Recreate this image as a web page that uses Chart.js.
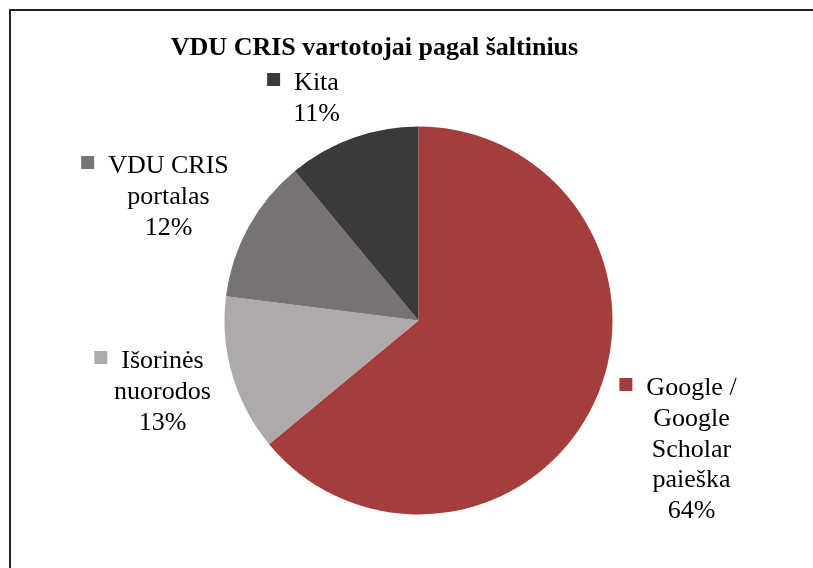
<!DOCTYPE html>
<html>
<head>
<meta charset="utf-8">
<script src="https://cdn.jsdelivr.net/npm/chart.js@4"></script>
<style>
  body { margin: 0; background: #fff; }
  #wrap { width: 813px; height: 568px; position: relative; }
</style>
</head>
<body>
<div id="wrap"><canvas id="pie-chart" width="813" height="568"></canvas></div>
<script>
//
// Pie chart - data
//
const categories = [
  'Google / Google Scholar paieška',
  'Išorinės nuorodos',
  'VDU CRIS portalas',
  'Kita'
];
const values = [64, 13, 12, 11];

// how each label breaks into lines (last line is the percent)
const labelLines = [
  ['Google /', 'Google', 'Scholar', 'paieška'],
  ['Išorinės', 'nuorodos'],
  ['VDU CRIS', 'portalas'],
  ['Kita']
];

const colors = ['#A43D3B', '#ADAAA9', '#767372', '#3B3A38'];

// label layout: text center x, first baseline y
const labelPos = [
  [691.5, 395],
  [162.5, 368],
  [168.5, 173],
  [316.5, 90]
];

const font = '"Liberation Serif", "Times New Roman", serif';

// frame + title + outside labels
const decor = {
  id: 'decor',
  afterDraw(chart) {
    const ctx = chart.ctx;
    ctx.save();
    ctx.fillStyle = '#222';
    ctx.fillRect(9, 9, 813, 2);
    ctx.fillRect(9, 9, 2, 568);

    ctx.fillStyle = '#000';
    ctx.font = 'bold 26px ' + font;
    ctx.textAlign = 'center';
    ctx.textBaseline = 'alphabetic';
    ctx.fillText('VDU CRIS vartotojai pagal šaltinius', 374.5, 55);

    ctx.font = '26px ' + font;
    const total = values.reduce((a, b) => a + b, 0);
    labelLines.forEach((lines, i) => {
      const all = lines.concat([Math.round(values[i] / total * 100) + '%']);
      const [cx, by] = labelPos[i];
      all.forEach((t, k) => {
        ctx.fillStyle = '#000';
        ctx.fillText(t, cx, by + k * 30.8);
      });
      const w = ctx.measureText(all[0]).width;
      ctx.fillStyle = colors[i];
      ctx.fillRect(cx - w / 2 - 27, by - 17, 13, 13);
    });
    ctx.restore();
  }
};

const data = {
  labels: categories,
  datasets: [{
    data: values,
    backgroundColor: colors,
    borderWidth: 0
  }]
};

const config = {
  type: 'pie',
  data: data,
  options: {
    responsive: false,
    animation: false,
    layout: {
      padding: { left: 224.5, right: 200.5, top: 126.5, bottom: 53.5 }
    },
    plugins: {
      legend: { display: false },
      tooltip: { enabled: false },
      title: { display: false }
    }
  },
  plugins: [decor]
};

const myChart = new Chart(document.getElementById('pie-chart'), config);
</script>
</body>
</html>
